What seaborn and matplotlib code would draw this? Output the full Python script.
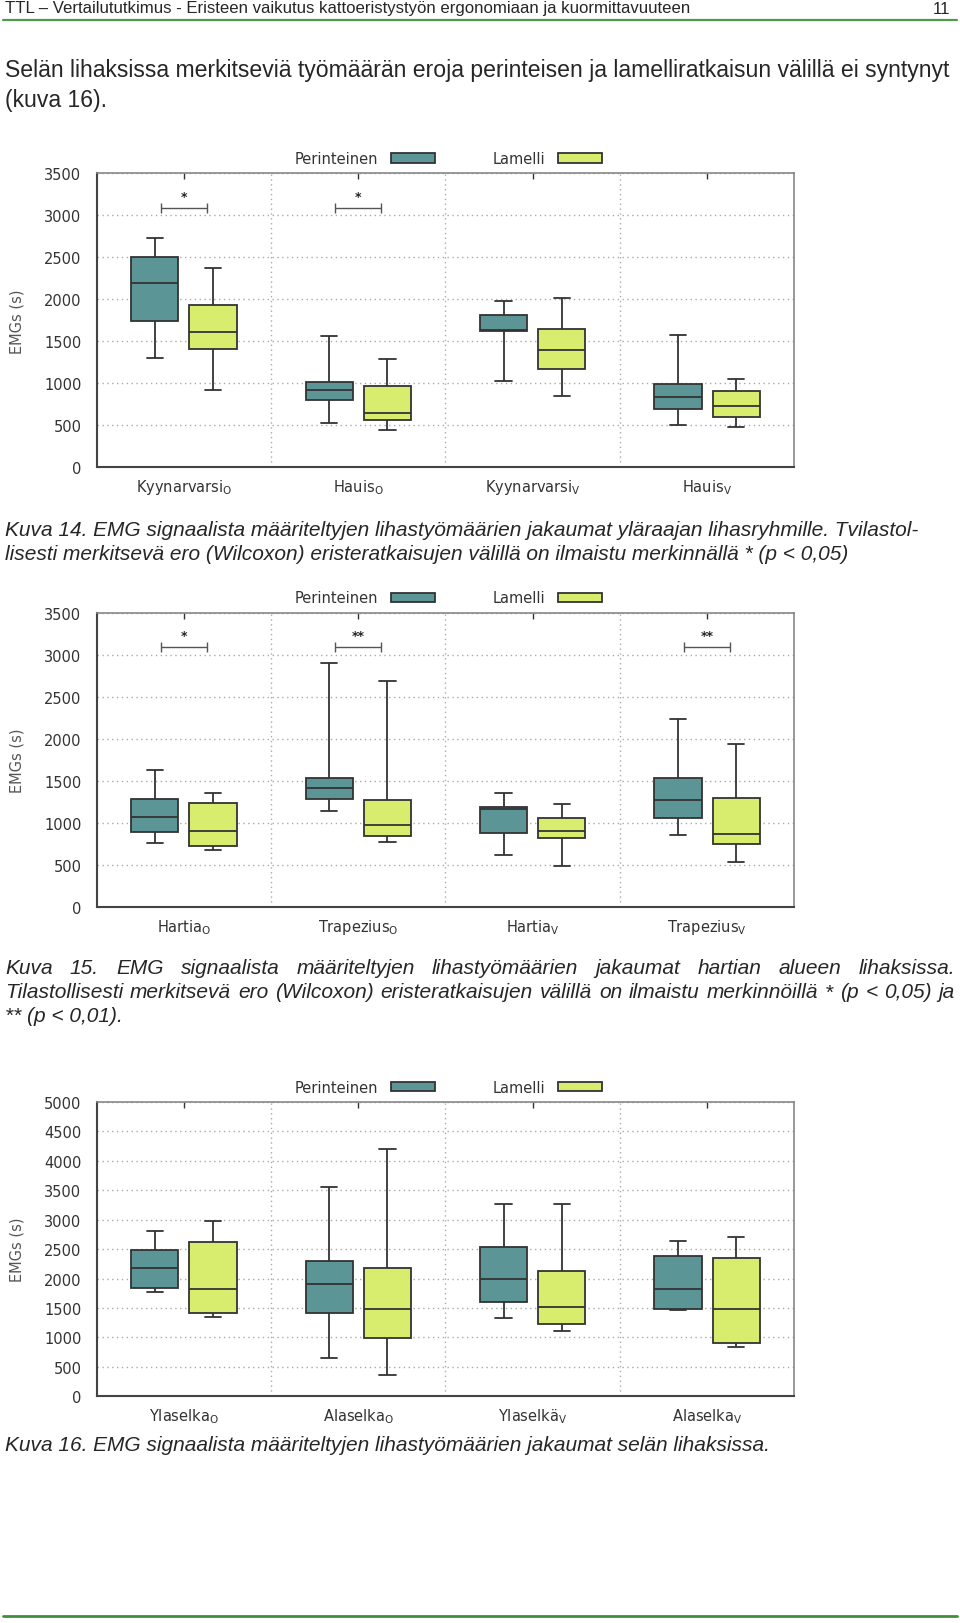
import numpy as np
import pandas as pd
import matplotlib
matplotlib.use('Agg')
import matplotlib.pyplot as plt
from matplotlib.lines import Line2D
import seaborn as sns

W, H = 960, 1624

'''
Data: five-number summaries [min, Q1, median, Q3, max] read off the figure
'''
systems = ['Perinteinen', 'Lamelli']
colors = ['#5b9595', '#d8ed6e']

upper_muscles = ['Kyynarvarsi$_{\\mathrm{O}}$', 'Hauis$_{\\mathrm{O}}$',
                 'Kyynarvarsi$_{\\mathrm{V}}$', 'Hauis$_{\\mathrm{V}}$']
upper_per = [[1306, 1746, 2190, 2508, 2734], [528, 802, 925, 1016, 1560],
             [1028, 1623, 1630, 1813, 1976], [508, 690, 837, 996, 1571]]
upper_lam = [[921, 1409, 1607, 1937, 2377], [440, 560, 643, 972, 1290],
             [853, 1171, 1393, 1647, 2016], [476, 595, 734, 905, 1052]]
upper_sig = ['*', '*', '', '']

shoulder_muscles = ['Hartia$_{\\mathrm{O}}$', 'Trapezius$_{\\mathrm{O}}$',
                    'Hartia$_{\\mathrm{V}}$', 'Trapezius$_{\\mathrm{V}}$']
shoulder_per = [[768, 895, 1073, 1287, 1631], [1144, 1287, 1413, 1532, 2898],
                [625, 887, 1168, 1196, 1362], [863, 1057, 1275, 1540, 2237]]
shoulder_lam = [[681, 724, 903, 1239, 1354], [780, 851, 982, 1275, 2684],
                [495, 819, 903, 1057, 1231], [538, 752, 875, 1299, 1936]]
shoulder_sig = ['*', '**', '', '**']

back_muscles = ['Ylaselka$_{\\mathrm{O}}$', 'Alaselka$_{\\mathrm{O}}$',
                'Ylaselkä$_{\\mathrm{V}}$', 'Alaselka$_{\\mathrm{V}}$']
back_per = [[1778, 1835, 2174, 2486, 2809], [646, 1416, 1914, 2299, 3556],
            [1325, 1603, 1988, 2531, 3273], [1472, 1484, 1818, 2390, 2639]]
back_lam = [[1342, 1416, 1818, 2627, 2973], [362, 991, 1489, 2174, 4196],
            [1104, 1234, 1512, 2135, 3273], [832, 906, 1484, 2344, 2707]]
back_sig = ['', '', '', '']

sns.set_theme(style='white')
plt.rcParams['font.family'] = ['DejaVu Sans']

fig = plt.figure(figsize=(W / 100, H / 100), dpi=100)
renderer = fig.canvas.get_renderer()
PAGE_FONT = 'Liberation Sans'


def long_form(muscles, per, lam):
    rows = []
    for m, p, l in zip(muscles, per, lam):
        rows += [(m, 'Perinteinen', v) for v in p]
        rows += [(m, 'Lamelli', v) for v in l]
    return pd.DataFrame(rows, columns=['lihas', 'ratkaisu', 'EMG'])


def panel(top, bottom, muscles, per, lam, sig, ymax):
    ax = fig.add_axes([96.7 / W, 1 - bottom / H, 697.6 / W, (bottom - top) / H])
    df = long_form(muscles, per, lam)
    sns.boxplot(data=df, x='lihas', y='EMG', hue='ratkaisu', hue_order=systems,
                palette=colors, saturation=1, width=0.667, gap=0.19,
                whis=(0, 100), linecolor='#333333', linewidth=1.3,
                fliersize=0, ax=ax)
    # narrower whisker caps, as in the original
    for c in ax.containers:
        for cap in getattr(c, 'caps', []):
            x = np.asarray(cap.get_xdata(), dtype=float)
            m = x.mean()
            cap.set_xdata(m + (x - m) * 0.7)

    ax.set_xlim(-0.5, 3.5)
    ax.set_ylim(0, ymax)
    ax.set_yticks(np.arange(0, ymax + 1, 500))
    ax.set_xticks([0.5, 1.5, 2.5], minor=True)
    ax.set_axisbelow(True)
    ax.grid(which='minor', axis='x', color='#aaaaaa', ls=(0, (1, 2.5)), lw=1)
    ax.grid(which='major', axis='y', color='#aaaaaa', ls=(0, (1, 2.5)), lw=1)
    ax.grid(which='major', axis='x', visible=False)
    ax.tick_params(axis='x', which='major', direction='in', length=4, width=1,
                   color='#333333', top=True, labelsize=10.5, pad=7,
                   labelcolor='#333333')
    ax.tick_params(axis='x', which='minor', length=0)
    ax.tick_params(axis='y', length=0, pad=11, labelsize=10.5,
                   labelcolor='#333333')
    for s in ['top', 'right']:
        ax.spines[s].set_color('#888888')
        ax.spines[s].set_linewidth(1.2)
    for s in ['left', 'bottom']:
        ax.spines[s].set_color('#444444')
        ax.spines[s].set_linewidth(1.5)
    ax.set_xlabel('')
    ax.set_ylabel('EMGs (s)', color='#555555', fontsize=10.5, labelpad=14)

    for i, s in enumerate(sig):
        if s:
            ax.errorbar(i, 3090, xerr=0.133, fmt='none', ecolor='#555555',
                        elinewidth=1, capsize=3.5, capthick=1)
            ax.text(i, 3225, s, ha='center', va='center', fontsize=9,
                    color='#222222', fontweight='bold')

    sns.move_legend(ax, 'center', bbox_to_anchor=(0.504, 1.05), ncol=2,
                    markerfirst=False, frameon=False, title=None,
                    handlelength=3, handleheight=0.6, columnspacing=4,
                    handletextpad=0.85, fontsize=10.5)
    for t in ax.get_legend().get_texts():
        t.set_color('#333333')
    return ax


def fit_text(x, y, s, width, **kw):
    t = fig.text(x / W, 1 - y / H, s, fontsize=10, va='center', **kw)
    w = t.get_window_extent(renderer).width
    size = 10 * width / w
    t.set_fontsize(size)
    return size


def put_text(x, y, s, size, **kw):
    return fig.text(x / W, 1 - y / H, s, fontsize=size, va='center', **kw)


def justify(y, line, x0, x1, size, **kw):
    words = line.split(' ')
    ts = [put_text(0, y, w, size, **kw) for w in words]
    ws = [t.get_window_extent(renderer).width for t in ts]
    gap = (x1 - x0 - sum(ws)) / (len(words) - 1)
    x = x0
    for t, w in zip(ts, ws):
        t.set_x(x / W)
        x += w + gap


# header
hsize = fit_text(5, 9, 'TTL – Vertailututkimus - Eristeen vaikutus kattoeristystyön '
                 'ergonomiaan ja kuormittavuuteen', 686, family=PAGE_FONT)
put_text(950, 9, '11', hsize, family=PAGE_FONT, ha='right')
fig.add_artist(Line2D([3 / W, 957 / W], [1 - 21 / H] * 2, color='#4c9a4c', lw=1.6))

# body text
bsize = fit_text(5, 71, 'Selän lihaksissa merkitseviä työmäärän eroja perinteisen ja '
                 'lamelliratkaisun välillä ei syntynyt', 950, family=PAGE_FONT)
put_text(5, 101, '(kuva 16).', bsize, family=PAGE_FONT)

# panels
panel(174.3, 468.3, upper_muscles, upper_per, upper_lam, upper_sig, 3500)
panel(613.7, 908.3, shoulder_muscles, shoulder_per, shoulder_lam, shoulder_sig, 3500)
panel(1103, 1397.3, back_muscles, back_per, back_lam, back_sig, 5000)

# captions
csize = fit_text(5, 531, 'Kuva 14. EMG signaalista määriteltyjen lihastyömäärien jakaumat '
                 'yläraajan lihasryhmille. Tvilastol-', 915,
                 family=PAGE_FONT, style='italic')
put_text(5, 555, 'lisesti merkitsevä ero (Wilcoxon) eristeratkaisujen välillä on ilmaistu '
         'merkinnällä * (p < 0,05)', csize, family=PAGE_FONT, style='italic')
justify(969, 'Kuva 15. EMG signaalista määriteltyjen lihastyömäärien jakaumat hartian '
        'alueen lihaksissa.', 5, 955, csize, family=PAGE_FONT, style='italic')
justify(993, 'Tilastollisesti merkitsevä ero (Wilcoxon) eristeratkaisujen välillä on '
        'ilmaistu merkinnöillä * (p < 0,05) ja', 5, 955, csize,
        family=PAGE_FONT, style='italic')
put_text(5, 1017, '** (p < 0,01).', csize, family=PAGE_FONT, style='italic')
put_text(5, 1446, 'Kuva 16. EMG signaalista määriteltyjen lihastyömäärien jakaumat '
         'selän lihaksissa.', csize, family=PAGE_FONT, style='italic')

fig.add_artist(Line2D([3 / W, 957 / W], [1 - 1617 / H] * 2, color='#3f8f3f', lw=2))

fig.savefig('out.png', dpi=100)
